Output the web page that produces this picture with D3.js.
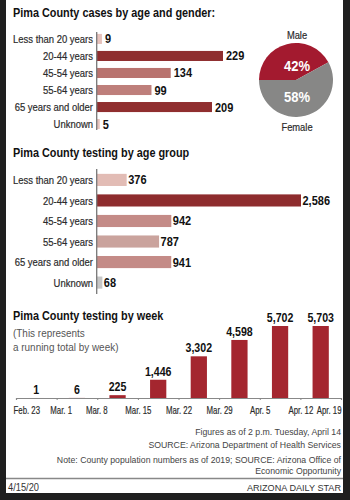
<!DOCTYPE html>
<html><head><meta charset="utf-8">
<script src="https://cdn.jsdelivr.net/npm/d3@7"></script>
<style>
html,body{margin:0;padding:0;background:#1f1f1f;}
svg{display:block;}
text{font-family:"Liberation Sans",Arial,sans-serif;}
</style></head>
<body>
<svg id="c" width="350" height="500"></svg>
<script>
// ---- data ----
const caseAges = ["Less than 20 years","20-44 years","45-54 years","55-64 years","65 years and older","Unknown"];
const caseValues = [9,229,134,99,209,5];
const caseColors = ["#e6c2bc","#8f2d2e","#b9736f","#be7f7b","#902e2f","#e6c2bc"];
const genderLabels = ["Male","Female"];
const genderShares = [42,58];
const genderColors = ["#a31a2f","#878786"];
const testAges = ["Less than 20 years","20-44 years","45-54 years","55-64 years","65 years and older","Unknown"];
const testValues = [376,2586,942,787,941,68];
const testColors = ["#e2bcb5","#8e2c2e","#c48b87","#caa39d","#c48b87","#c6c6c6"];
const weekBars = ["w1","w2","w3","w4","w5","w6","w7","w8"];
const weekValues = [1,6,225,1446,3302,4598,5702,5703];
const weekTickLabels = ["Feb. 23","Mar. 1","Mar. 8","Mar. 15","Mar. 22","Mar. 29","Apr. 5","Apr. 12","Apr. 19"];
const notes = ["Figures as of 2 p.m. Tuesday, April 14","SOURCE: Arizona Department of Health Services"];
const notes2 = ["Note: County population numbers as of 2019; SOURCE: Arizona Office of","Economic Opportunity"];

const svg = d3.select("#c");
const fmt = d3.format(",");
// horizontal condensing of text via a scale transform (keeps anchor positions)
function condense(sel, k){
  sel.each(function(){
    const x = parseFloat(this.getAttribute("x")) || 0;
    this.setAttribute("x", x / k);
    const dx = this.getAttribute("dx");
    if (dx) this.setAttribute("dx", parseFloat(dx) / k);
    const t = this.getAttribute("transform") || "";
    this.setAttribute("transform", (t + " scale(" + k + ",1)").trim());
  });
  return sel;
}
function heavy(sel, c){ return sel.attr("stroke", c).attr("stroke-width", 0.2); }

const K_TITLE=0.85, K_LAB=0.81, K_VAL=0.88, K_TICK=0.67, K_SUB=0.85, K_NOTE=0.93;
const LAB_COLOR="#2b2b2b";

// background panel
svg.append("rect").attr("x",0).attr("y",0).attr("width",350).attr("height",500).attr("fill","#1f1f1f");
svg.append("rect").attr("x",6).attr("y",0).attr("width",337).attr("height",493).attr("fill","#fff");

function title(txt, y){
  return condense(svg.append("text").attr("x",13).attr("y",y).attr("font-size",12.8).attr("font-weight","bold").attr("fill","#111").text(txt),K_TITLE);
}

// ---- Section 1: cases ----
title("Pima County cases by age and gender:",17.5);
const y1 = d3.scaleBand().domain(caseAges).range([30.5,132.5]).paddingInner(0.41).paddingOuter(0.2);
const x1 = d3.scaleLinear().domain([0,229]).range([97,223]);
const g1 = svg.append("g");
g1.selectAll("rect").data(caseValues).join("rect")
  .attr("x",x1(0)).attr("y",(d,i)=>y1(caseAges[i])).attr("height",y1.bandwidth())
  .attr("width",d=>x1(d)-x1(0)).attr("fill",(d,i)=>caseColors[i]);
heavy(condense(g1.selectAll("text.lab").data(caseAges).join("text").attr("class","lab")
  .attr("x",93).attr("y",d=>y1(d)+y1.bandwidth()/2).attr("dy","0.36em").attr("text-anchor","end")
  .attr("font-size",11.7).attr("fill",LAB_COLOR).text(d=>d),K_LAB),LAB_COLOR);
condense(g1.selectAll("text.val").data(caseValues).join("text").attr("class","val")
  .attr("x",d=>x1(d)+3).attr("y",(d,i)=>y1(caseAges[i])+y1.bandwidth()/2).attr("dy","0.36em")
  .attr("font-size",12.5).attr("font-weight","bold").attr("fill","#111").text(d=>fmt(d)),K_VAL);
g1.append("line").attr("x1",96.7).attr("x2",96.7).attr("y1",32).attr("y2",130).attr("stroke","#777").attr("stroke-width",1.3);

// pie
const pie = d3.pie().sort(null).startAngle(-Math.PI/2).endAngle(1.5*Math.PI);
const arcs = pie(genderShares);
const arc = d3.arc().innerRadius(0).outerRadius(37);
const gp = svg.append("g").attr("transform","translate(296,80)");
gp.selectAll("path").data(arcs).join("path").attr("d",arc).attr("fill",(d,i)=>genderColors[i]);
condense(gp.selectAll("text.pct").data(arcs).join("text").attr("class","pct")
  .attr("x",1).attr("y",(d,i)=> i===0 ? -14 : 17).attr("dy","0.36em").attr("text-anchor","middle")
  .attr("font-size",14).attr("font-weight","bold").attr("fill","#fff").text(d=>d.data+"%"),0.93);
heavy(condense(gp.selectAll("text.gl").data(genderLabels).join("text").attr("class","gl")
  .attr("x",1).attr("y",(d,i)=> i===0 ? -45 : 47).attr("dy","0.36em").attr("text-anchor","middle")
  .attr("font-size",11.7).attr("fill",LAB_COLOR).text(d=>d),0.8),LAB_COLOR);

// ---- Section 2: testing by age ----
title("Pima County testing by age group",157.5);
const y2 = d3.scaleBand().domain(testAges).range([169.75,292.75]).paddingInner(0.41).paddingOuter(0.2);
const x2 = d3.scaleLinear().domain([0,2586]).range([97,301]);
const g2 = svg.append("g");
g2.selectAll("rect").data(testValues).join("rect")
  .attr("x",x2(0)).attr("y",(d,i)=>y2(testAges[i])).attr("height",y2.bandwidth())
  .attr("width",d=>x2(d)-x2(0)).attr("fill",(d,i)=>testColors[i]);
heavy(condense(g2.selectAll("text.lab").data(testAges).join("text").attr("class","lab")
  .attr("x",93).attr("y",d=>y2(d)+y2.bandwidth()/2).attr("dy","0.36em").attr("text-anchor","end")
  .attr("font-size",11.7).attr("fill",LAB_COLOR).text(d=>d),K_LAB),LAB_COLOR);
condense(g2.selectAll("text.val").data(testValues).join("text").attr("class","val")
  .attr("x",d=>x2(d)+1.5).attr("y",(d,i)=>y2(testAges[i])+y2.bandwidth()/2).attr("dy","0.36em")
  .attr("font-size",12.5).attr("font-weight","bold").attr("fill","#111").text(d=>fmt(d)),K_VAL);
g2.append("line").attr("x1",96.7).attr("x2",96.7).attr("y1",169).attr("y2",294).attr("stroke","#777").attr("stroke-width",1.3);

// ---- Section 3: testing by week ----
title("Pima County testing by week",320);
condense(svg.append("text").attr("x",13).attr("y",337.5).attr("font-size",11.7).attr("fill","#555").text("(This represents"),K_SUB);
condense(svg.append("text").attr("x",13).attr("y",351).attr("font-size",11.7).attr("fill","#555").text("a running total by week)"),K_SUB);

const x3 = d3.scaleBand().domain(weekBars).range([16,341]).paddingInner(0.6).paddingOuter(0.3);
const xt = d3.scalePoint().domain(weekTickLabels).range([16,341]);
const y3 = d3.scaleLinear().domain([0,5703]).range([398,326]);
const g3 = svg.append("g");
g3.selectAll("rect").data(weekValues).join("rect")
  .attr("x",(d,i)=>x3(weekBars[i])).attr("width",x3.bandwidth())
  .attr("y",d=>y3(d)).attr("height",d=>y3(0)-y3(d)).attr("fill","#a4262f");
condense(g3.selectAll("text.val").data(weekValues).join("text").attr("class","val")
  .attr("x",(d,i)=>x3(weekBars[i])+x3.bandwidth()/2).attr("y",d=>y3(d)-4).attr("text-anchor","middle")
  .attr("font-size",12.5).attr("font-weight","bold").attr("fill","#111").text(d=>fmt(d)),0.85);
const ax = g3.append("g").attr("transform","translate(0,398)")
  .call(d3.axisBottom(xt).tickSize(2).tickPadding(6));
ax.select(".domain").attr("stroke","#888").attr("stroke-width",1.2);
ax.selectAll(".tick line").attr("stroke","#888");
heavy(ax.selectAll(".tick text").attr("font-size",11.7).attr("fill",LAB_COLOR)
  .attr("font-family","'Liberation Sans',Arial,sans-serif")
  .attr("text-anchor",(d,i)=> i===0 ? "start" : (i===weekTickLabels.length-1 ? "end" : "middle"))
  .attr("dx",(d,i)=> i===0 ? -3 : (i===1 ? 4 : (i===2 ? -1 : 0))),LAB_COLOR);
condense(ax.selectAll(".tick text"),K_TICK);

// notes
condense(svg.selectAll("text.n1").data(notes).join("text").attr("class","n1")
  .attr("x",341).attr("y",(d,i)=>435+i*13).attr("text-anchor","end").attr("font-size",9.4).attr("fill","#444").text(d=>d),K_NOTE);
condense(svg.selectAll("text.n2").data(notes2).join("text").attr("class","n2")
  .attr("x",341).attr("y",(d,i)=>463+i*11).attr("text-anchor","end").attr("font-size",9.4).attr("fill","#444").text(d=>d),K_NOTE);

// footer
svg.append("line").attr("x1",6).attr("x2",343).attr("y1",478.5).attr("y2",478.5).attr("stroke","#888").attr("stroke-width",1.5);
condense(svg.append("text").attr("x",8).attr("y",491).attr("font-size",10).attr("fill","#333").text("4/15/20"),K_NOTE);
condense(svg.append("text").attr("x",341).attr("y",491).attr("text-anchor","end").attr("font-size",9.8).attr("fill","#333").text("ARIZONA DAILY STAR"),K_NOTE);
</script>
</body></html>
